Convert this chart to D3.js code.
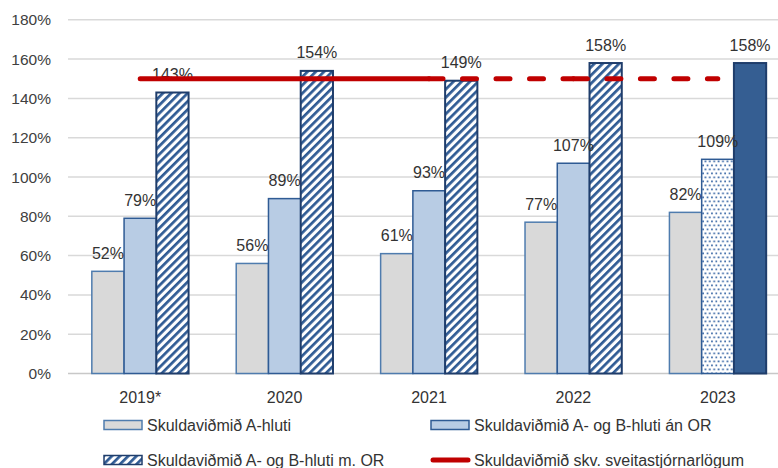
<!DOCTYPE html>
<html><head><meta charset="utf-8">
<script src="https://cdn.jsdelivr.net/npm/d3@7"></script>
<style>body{margin:0;background:#fff}svg{display:block;font-family:"Liberation Sans",Arial,sans-serif}</style>
</head><body><svg id="c" width="778" height="468"></svg>
<script>
const categories = ["2019*", "2020", "2021", "2022", "2023"];
const seriesNames = ["Skuldaviðmið A-hluti", "Skuldaviðmið A- og B-hluti án OR", "Skuldaviðmið A- og B-hluti m. OR", "Skuldaviðmið skv. sveitastjórnarlögum"];
const aHluti = [52, 56, 61, 77, 82];
const abAnOR = [79, 89, 93, 107, 109];
const abMedOR = [143, 154, 149, 158, 158];
const limitLaw = [150, 150, 150, 150, 150];
const yTicks = [0, 20, 40, 60, 80, 100, 120, 140, 160, 180];

const svg = d3.select("#c");
const defs = svg.append("defs");
const hatch = defs.append("pattern").attr("id","hatch").attr("patternUnits","userSpaceOnUse")
  .attr("width",5.8).attr("height",5.8).attr("patternTransform","rotate(45)");
hatch.append("rect").attr("width",5.8).attr("height",5.8).attr("fill","#fff");
hatch.append("rect").attr("x",0).attr("width",2.7).attr("height",5.8).attr("fill","#2f5b94");
const dots = defs.append("pattern").attr("id","dots").attr("patternUnits","userSpaceOnUse")
  .attr("width",4.4).attr("height",8);
dots.append("rect").attr("width",4.4).attr("height",8).attr("fill","#fff");
dots.append("rect").attr("x",0.5).attr("y",0.5).attr("width",1.8).attr("height",1.8).attr("fill","#4a74ad");
dots.append("rect").attr("x",2.7).attr("y",4.5).attr("width",1.8).attr("height",1.8).attr("fill","#4a74ad");

const y = d3.scaleLinear().domain([0,180]).range([373.5,19.8]);
const x0 = d3.scaleBand().domain(categories).range([68,790]).paddingInner(0.33).paddingOuter(0.165);
const x1 = d3.scaleBand().domain([0,1,2]).range([0,x0.bandwidth()]).padding(0);

// grid
svg.append("g").selectAll("line").data(yTicks).join("line")
  .attr("x1",68).attr("x2",778).attr("y1",d=>y(d)).attr("y2",d=>y(d))
  .attr("stroke",d=>d===0?"#c8c8c8":"#d9d9d9").attr("stroke-width",1.5);
svg.append("g").selectAll("text").data(yTicks).join("text")
  .attr("x",51).attr("y",d=>y(d)).attr("dy","0.36em").attr("text-anchor","end")
  .attr("font-size",15.5).attr("fill","#404040").text(d=>d+"%");

// bars
const styleFor = (s,i) => {
  if (s===0) return {fill:"#d9d9d9", stroke:"#4f7cae", sw:1.5};
  if (s===1) return i===4 ? {fill:"url(#dots)", stroke:"#2f5b94", sw:1.5} : {fill:"#b8cce4", stroke:"#2f5b94", sw:1.5};
  return i===4 ? {fill:"#355e92", stroke:"#1f3d6b", sw:2} : {fill:"url(#hatch)", stroke:"#1f3d6b", sw:2};
};
const series = [aHluti, abAnOR, abMedOR];
const barData = [];
series.forEach((arr,s)=>arr.forEach((v,i)=>barData.push({s,i,v,cat:categories[i]})));
svg.append("g").selectAll("rect").data(barData).join("rect")
  .attr("x",d=>x0(d.cat)+x1(d.s)).attr("width",x1.bandwidth())
  .attr("y",d=>y(d.v)).attr("height",d=>y(0)-y(d.v))
  .attr("fill",d=>styleFor(d.s,d.i).fill).attr("stroke",d=>styleFor(d.s,d.i).stroke)
  .attr("stroke-width",d=>styleFor(d.s,d.i).sw);

// data labels
svg.append("g").selectAll("text").data(barData).join("text")
  .attr("x",d=>x0(d.cat)+x1(d.s)+x1.bandwidth()/2).attr("y",d=>y(d.v)-12.5)
  .attr("text-anchor","middle").attr("font-size",16).attr("fill","#333").text(d=>d.v+"%");

// x labels
svg.append("g").selectAll("text").data(categories).join("text")
  .attr("x",d=>x0(d)+x0.bandwidth()/2).attr("y",403).attr("text-anchor","middle")
  .attr("font-size",16).attr("fill","#333").text(d=>d);

// limit line: solid through 2021, dashed afterwards (each segment restarts pattern)
const pts = categories.map((c,i)=>[x0(c)+x0.bandwidth()/2, y(limitLaw[i])]);
const line = d3.line();
svg.append("path").attr("d",line(pts.slice(0,3))).attr("fill","none")
  .attr("stroke","#c00000").attr("stroke-width",5).attr("stroke-linecap","round");
for (let k=2;k<4;k++){
  svg.append("path").attr("d",line([pts[k],pts[k+1]])).attr("fill","none")
    .attr("stroke","#c00000").attr("stroke-width",5).attr("stroke-linecap","round")
    .attr("stroke-dasharray","14 19.5");
}

// legend
const leg = [
  {x:104, y:425, name:seriesNames[0], type:"rect", fill:"#d9d9d9", stroke:"#4f7cae"},
  {x:431, y:425, name:seriesNames[1], type:"rect", fill:"#b8cce4", stroke:"#2f5b94"},
  {x:104, y:460, name:seriesNames[2], type:"rect", fill:"url(#hatch)", stroke:"#1f3d6b"},
  {x:431, y:460, name:seriesNames[3], type:"line"}
];
const lg = svg.append("g").selectAll("g").data(leg).join("g");
lg.filter(d=>d.type==="rect").append("rect").attr("x",d=>d.x).attr("y",d=>d.y-4.5)
  .attr("width",38).attr("height",9).attr("fill",d=>d.fill).attr("stroke",d=>d.stroke).attr("stroke-width",1.5);
lg.filter(d=>d.type==="line").append("line").attr("x1",d=>d.x+2).attr("x2",d=>d.x+37)
  .attr("y1",d=>d.y).attr("y2",d=>d.y).attr("stroke","#c00000").attr("stroke-width",5).attr("stroke-linecap","round");
lg.append("text").attr("x",d=>d.x+43).attr("y",d=>d.y).attr("dy","0.36em")
  .attr("font-size",16).attr("fill","#333").text(d=>d.name);
</script></body></html>
